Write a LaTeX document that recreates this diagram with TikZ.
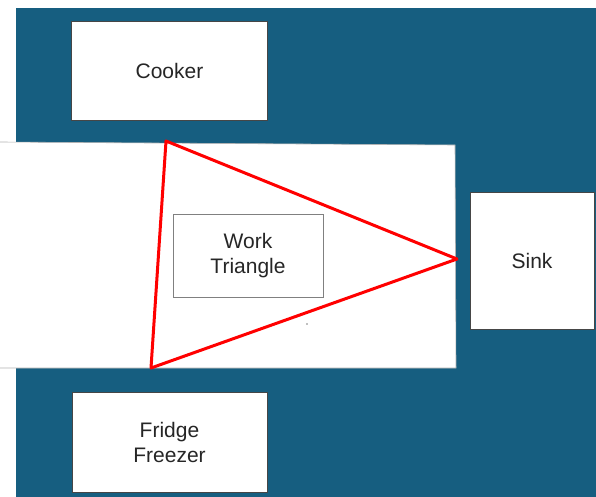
\documentclass[tikz,border=0pt]{standalone}
\usepackage{fontspec}
\setmainfont{Liberation Sans}
\definecolor{kitchenblue}{RGB}{22,94,128}
\definecolor{boxline}{RGB}{70,70,70}

\begin{document}
\begin{tikzpicture}[x=1pt, y=-1pt, thick,
                    unit box/.style={rectangle,draw=boxline,line width=0.8pt,fill=white,inner sep=0pt,
                                     align=center,font=\fontsize{21}{25}\selectfont,text=black!85},
                    label box/.style={unit box,draw=gray,line width=1pt},
                    work line/.style={red,line width=3pt,line join=round}]

  \useasboundingbox (0,0) rectangle (596,497);
  % floor and the open strip
  \fill[kitchenblue] (16,8) rectangle (596,497);
  \fill[white] (0,142) -- (455,145) -- (456,368) -- (0,368) -- cycle;
  \draw[gray!60,line width=0.6pt] (0,142) -- (455,145) -- (456,368) -- (0,368);

  \node[unit box, minimum width=196, minimum height=99] (cooker) at (169.5,70.5) {\raisebox{-2pt}{Cooker}};
  \node[unit box, minimum width=195, minimum height=100] (fridge) at (169.5,442) {Fridge\\Freezer};
  \node[unit box, minimum width=124, minimum height=137] (sink) at (532,260.5) {\raisebox{-2pt}{Sink}};
  \node[label box, minimum width=150, minimum height=83] (work) at (248,255.5) {Work\\Triangle};

  \coordinate (c) at (166,141);
  \coordinate (s) at (457,259);
  \coordinate (f) at (151,368);

  \draw[work line] (c) -- (s) -- (f) -- cycle;
  \fill[gray] (307,324) circle (0.8);
\end{tikzpicture}
\end{document}
